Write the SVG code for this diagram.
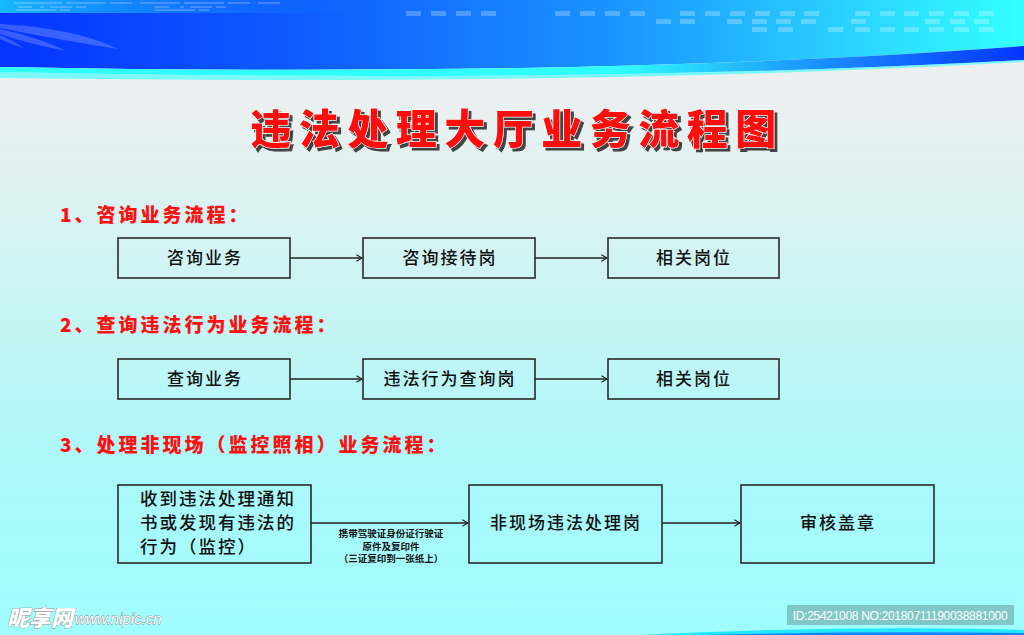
<svg xmlns="http://www.w3.org/2000/svg" width="1024" height="635" viewBox="0 0 1024 635">
<defs>
<linearGradient id="bg" x1="0" y1="0" x2="0" y2="1">
<stop offset="0" stop-color="#f0f0f0"/>
<stop offset="0.18" stop-color="#eaf0f0"/>
<stop offset="0.45" stop-color="#cdf4f4"/>
<stop offset="0.75" stop-color="#aaf8fa"/>
<stop offset="1" stop-color="#9ffdfd"/>
</linearGradient>
<linearGradient id="ban" x1="0" y1="0" x2="1" y2="0">
<stop offset="0" stop-color="#0534ff"/>
<stop offset="0.3" stop-color="#0f5dff"/>
<stop offset="0.6" stop-color="#1a94ff"/>
<stop offset="0.85" stop-color="#2bd8ff"/>
<stop offset="1" stop-color="#33ffff"/>
</linearGradient>
<linearGradient id="topstrip" x1="0" y1="0" x2="1" y2="0">
<stop offset="0" stop-color="#18b8ff"/>
<stop offset="0.5" stop-color="#1488ff" stop-opacity="0.7"/>
<stop offset="1" stop-color="#1070ff" stop-opacity="0"/>
</linearGradient>
<linearGradient id="band" x1="0" y1="0" x2="1" y2="0">
<stop offset="0" stop-color="#30ffff"/>
<stop offset="0.6" stop-color="#30ffff"/>
<stop offset="0.8" stop-color="#1a90ff"/>
<stop offset="1" stop-color="#0534ff"/>
</linearGradient>
<filter id="sh" x="-5%" y="-20%" width="110%" height="140%">
<feDropShadow dx="3" dy="3" stdDeviation="0.6" flood-color="#333" flood-opacity="0.9"/>
</filter>
<marker id="arr" viewBox="0 0 10 10" refX="9" refY="5" markerWidth="8" markerHeight="8" orient="auto" markerUnits="userSpaceOnUse">
<path d="M2,1 L9,5 L2,9" fill="none" stroke="#222" stroke-width="1.5"/>
</marker>
<style>
.box{fill:none;stroke:#2a2a2a;stroke-width:1.6}
.bt{font-family:"Noto Sans CJK SC","Noto Sans",sans-serif;font-size:17px;fill:#111;text-anchor:middle;letter-spacing:2px;font-weight:500}
.bt3{font-family:"Noto Sans CJK SC","Noto Sans",sans-serif;font-size:17.5px;fill:#111;letter-spacing:2px;font-weight:500}
.h{font-family:"Noto Sans CJK SC","Liberation Sans",sans-serif;font-size:19px;font-weight:900;fill:#ff1010;letter-spacing:3px}
.ln{stroke:#222;stroke-width:1.5;fill:none}
.sm{font-family:"Noto Sans CJK SC",sans-serif;font-size:9.5px;font-weight:bold;fill:#111;text-anchor:middle}
.dot{fill:#ffffff;opacity:0.25}
</style>
</defs>
<rect width="1024" height="635" fill="url(#bg)"/>
<!-- banner -->
<path d="M0,0 H1024 V46 Q600,78 0,67 Z" fill="url(#ban)"/>
<rect x="0" y="0" width="370" height="13" fill="url(#topstrip)"/>
<path d="M0,67 Q600,78 1024,46 V60 Q600,84 0,72 Z" fill="url(#band)"/>
<path d="M0,72 Q600,84 1024,60 V62 Q600,86 0,78 Z" fill="#30ffff" opacity="0.6"/>
<g fill="#ffffff" opacity="0.2">
<rect x="14" y="2" width="48" height="2"/><rect x="66" y="2" width="40" height="2"/><rect x="110" y="2" width="22" height="2"/><rect x="140" y="2" width="40" height="2"/><rect x="184" y="2" width="40" height="2"/><rect x="228" y="2" width="22" height="2"/><rect x="258" y="2" width="22" height="2"/>
<rect x="18" y="6" width="14" height="2"/><rect x="40" y="6" width="4" height="2"/><rect x="50" y="6" width="22" height="2"/><rect x="76" y="6" width="10" height="2"/><rect x="155" y="6" width="14" height="2"/><rect x="180" y="6" width="4" height="2"/><rect x="190" y="6" width="22" height="2"/><rect x="216" y="6" width="10" height="2"/>
<rect x="16" y="9" width="40" height="2"/><rect x="60" y="9" width="10" height="2"/><rect x="155" y="9" width="40" height="2"/><rect x="199" y="9" width="10" height="2"/>
</g>
<g class="dot">
<rect x="406" y="11" width="15" height="5"/><rect x="431" y="11" width="15" height="5"/><rect x="456" y="11" width="15" height="5"/><rect x="481" y="11" width="15" height="5"/>
<rect x="555" y="11" width="15" height="5"/><rect x="580" y="11" width="15" height="5"/><rect x="605" y="11" width="15" height="5"/><rect x="630" y="11" width="15" height="5"/>
<rect x="680" y="11" width="15" height="5"/><rect x="705" y="11" width="15" height="5"/><rect x="730" y="11" width="15" height="5"/><rect x="755" y="11" width="15" height="5"/><rect x="780" y="11" width="15" height="5"/><rect x="804" y="11" width="15" height="5"/>
<rect x="855" y="11" width="15" height="5"/><rect x="880" y="11" width="15" height="5"/><rect x="904" y="11" width="15" height="5"/><rect x="929" y="11" width="15" height="5"/><rect x="954" y="11" width="15" height="5"/><rect x="979" y="11" width="15" height="5"/>
<rect x="656" y="19" width="15" height="5"/><rect x="680" y="19" width="15" height="5"/><rect x="727" y="19" width="15" height="5"/><rect x="752" y="19" width="15" height="5"/><rect x="776" y="19" width="15" height="5"/><rect x="801" y="19" width="15" height="5"/><rect x="851" y="19" width="15" height="5"/><rect x="925" y="19" width="15" height="5"/><rect x="950" y="19" width="15" height="5"/><rect x="974" y="19" width="15" height="5"/>
<rect x="752" y="27" width="15" height="5"/><rect x="778" y="27" width="15" height="5"/><rect x="828" y="27" width="15" height="5"/><rect x="855" y="27" width="15" height="5"/><rect x="880" y="27" width="15" height="5"/><rect x="904" y="27" width="15" height="5"/><rect x="929" y="27" width="15" height="5"/><rect x="954" y="27" width="15" height="5"/><rect x="979" y="27" width="15" height="5"/>
</g>
<g fill="#ffffff" opacity="0.2">
<path d="M0,24 Q75,28 118,49 Q60,40 0,28 Z"/>
<path d="M0,29 Q40,38 66,51 Q30,44 0,34 Z"/>
<path d="M0,35 Q14,41 24,48 Q10,44 0,39 Z"/>
</g>
<!-- title -->
<g id="title">
<text x="517" y="144" text-anchor="middle" font-family="Noto Sans CJK SC,sans-serif" font-size="41" font-weight="900" letter-spacing="7.5" fill="#ff0a0a" stroke="#ffffff" stroke-width="1.2" paint-order="stroke" filter="url(#sh)">违法处理大厅业务流程图</text>
</g>
<!-- headings -->
<text class="h" x="60" y="222">1、咨询业务流程：</text>
<text class="h" x="60" y="332">2、查询违法行为业务流程：</text>
<text class="h" x="60" y="452">3、处理非现场（监控照相）业务流程：</text>
<!-- connectors -->
<g id="connectors">
<line class="ln" x1="290" y1="258" x2="362" y2="258" marker-end="url(#arr)"/>
<line class="ln" x1="535" y1="258" x2="607" y2="258" marker-end="url(#arr)"/>
<line class="ln" x1="290" y1="379" x2="362" y2="379" marker-end="url(#arr)"/>
<line class="ln" x1="535" y1="379" x2="607" y2="379" marker-end="url(#arr)"/>
<line class="ln" x1="311" y1="523" x2="468" y2="523" marker-end="url(#arr)"/>
<line class="ln" x1="662" y1="523" x2="740" y2="523" marker-end="url(#arr)"/>
<text class="sm" x="391" y="537">携带驾驶证身份证行驶证</text>
<text class="sm" x="391" y="549.5">原件及复印件</text>
<text class="sm" x="391" y="562">（三证复印到一张纸上）</text>
</g>
<!-- row 1 -->
<g id="n1a"><rect class="box" x="118" y="238" width="172" height="40"/><text class="bt" x="205" y="264">咨询业务</text></g>
<g id="n1b"><rect class="box" x="363" y="238" width="172" height="40"/><text class="bt" x="450" y="264">咨询接待岗</text></g>
<g id="n1c"><rect class="box" x="608" y="238" width="171" height="40"/><text class="bt" x="694" y="264">相关岗位</text></g>
<!-- row 2 -->
<g id="n2a"><rect class="box" x="118" y="359" width="172" height="40"/><text class="bt" x="205" y="385">查询业务</text></g>
<g id="n2b"><rect class="box" x="363" y="359" width="172" height="40"/><text class="bt" x="450" y="385">违法行为查询岗</text></g>
<g id="n2c"><rect class="box" x="608" y="359" width="171" height="40"/><text class="bt" x="694" y="385">相关岗位</text></g>
<!-- row 3 -->
<g id="n3a"><rect class="box" x="118" y="485" width="193" height="78"/>
<text class="bt3" x="140" y="505">收到违法处理通知</text>
<text class="bt3" x="140" y="529">书或发现有违法的</text>
<text class="bt3" x="140" y="553">行为（监控）</text></g>
<g id="n3b"><rect class="box" x="469" y="485" width="193" height="78"/><text class="bt" x="566" y="529">非现场违法处理岗</text></g>
<g id="n3c"><rect class="box" x="741" y="485" width="193" height="78"/><text class="bt" x="838" y="529">审核盖章</text></g>
<!-- bottom -->
<path d="M640,635 Q850,625 1024,630 V635 Z" fill="#20e8ff"/>
<path d="M700,635 Q860,631 1024,633 V635 Z" fill="#1a80ff"/>
<g id="watermark">
<text x="7" y="626" font-family="Noto Sans CJK SC,sans-serif" font-size="22" font-weight="900" font-style="italic" fill="#ffffff" stroke="#888" stroke-width="0.8" paint-order="stroke">昵享网</text>
<text x="75" y="624" font-family="Liberation Sans,sans-serif" font-size="15" font-style="italic" fill="#ffffff" stroke="#888" stroke-width="0.8" paint-order="stroke">www.nipic.cn</text>
<rect x="787" y="605" width="227" height="20" fill="#80c8c8"/>
<text x="900" y="620" text-anchor="middle" font-family="Liberation Sans,sans-serif" font-size="12" fill="#ffffff" letter-spacing="-0.3">ID:25421008 NO:20180711190038881000</text>
</g>
</svg>
